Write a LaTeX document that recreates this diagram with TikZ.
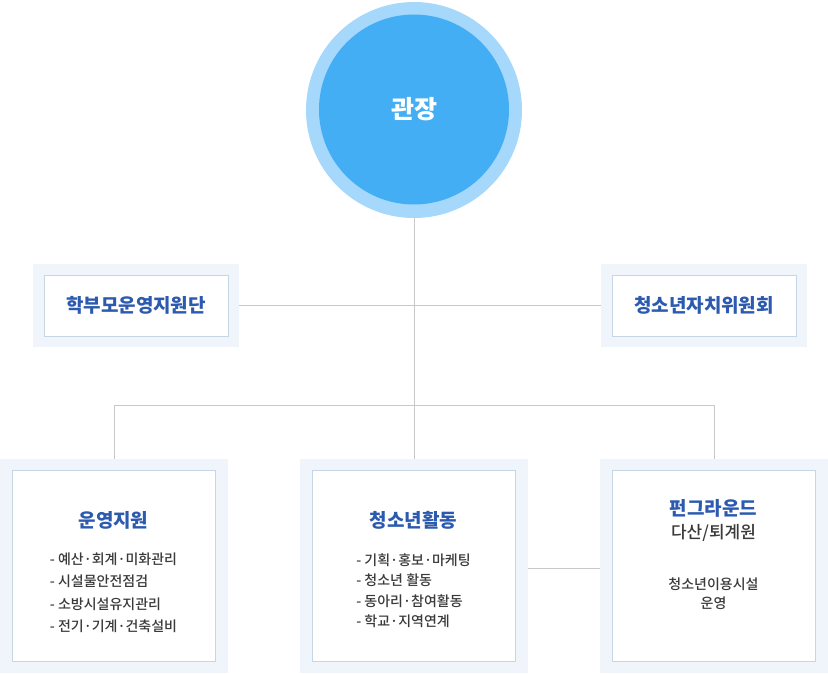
\documentclass[tikz,border=0pt]{standalone}
\usepackage{fontspec}
\setmainfont{Noto Sans CJK KR}
\newfontfamily\krmed{Noto Sans CJK KR}[UprightFont=* Medium]
\definecolor{ringblue}{HTML}{A6D8FC}
\definecolor{coreblue}{HTML}{44AEF5}
\definecolor{titleblue}{HTML}{2B5AAF}
\definecolor{txtgray}{HTML}{3A3A3A}
\definecolor{padfill}{HTML}{EFF5FB}
\definecolor{boxline}{HTML}{C6D6E6}
\definecolor{linkgray}{HTML}{C8C8C8}
\begin{document}
\begin{tikzpicture}[x=1pt,y=-1pt,
  pad/.style={rectangle, fill=padfill, inner sep=0pt},
  card/.style={rectangle, draw=boxline, line width=0.9pt, fill=white, inner sep=0pt},
  ttl/.style={font=\bfseries\fontsize{19}{22}\selectfont, text=titleblue},
  lst/.style={font=\krmed\fontsize{14}{22.5}\selectfont, text=txtgray, align=left},
  link/.style={draw=linkgray, line width=0.9pt}]
\fill[white] (0,0) rectangle (828,673);
\useasboundingbox (0,0) rectangle (828,673);
% top circle
\node[circle, fill=ringblue, minimum size=216pt, inner sep=0pt] (ring) at (414,110) {};
\node[circle, fill=coreblue, minimum size=190pt, inner sep=0pt, text=white,
  font=\bfseries\fontsize{25}{28}\selectfont] (chief) at (414,109.5) {관장};
% side boxes
\node[pad, minimum width=206pt, minimum height=83pt] (lpad) at (136,305) {};
\node[card, minimum width=184pt, minimum height=61pt, ttl] (parents) at (136,305.5) {학부모운영지원단};
\node[pad, minimum width=206pt, minimum height=83pt] (rpad) at (704,305.5) {};
\node[card, minimum width=184pt, minimum height=61pt, ttl] (council) at (704,305.5) {청소년자치위원회};
% bottom boxes
\node[pad, minimum width=228pt, minimum height=214pt] (bpad1) at (114,566) {};
\node[card, minimum width=203pt, minimum height=191pt] (ops) at (113.5,565.5) {};
\node[pad, minimum width=228pt, minimum height=214pt] (bpad2) at (414,566) {};
\node[card, minimum width=203pt, minimum height=191pt] (act) at (413.5,565.5) {};
\node[pad, minimum width=228pt, minimum height=214pt] (bpad3) at (714,566) {};
\node[card, minimum width=203pt, minimum height=191pt] (fun) at (713.5,565.5) {};
% texts in bottom boxes
\node[ttl] (opst) at (113.5,520) {운영지원};
\node[lst, anchor=north] (opsl) at (113.5,549) {- 예산·회계·미화관리\\- 시설물안전점검\\- 소방시설유지관리\\- 전기·기계·건축설비};
\node[ttl] (actt) at (413.5,520) {청소년활동};
\node[lst, anchor=north, font=\krmed\fontsize{14}{20.5}\selectfont] (actl) at (413.5,550) {- 기획·홍보·마케팅\\- 청소년 활동\\- 동아리·참여활동\\- 학교·지역연계};
\node[ttl] (funt) at (713.5,508) {펀그라운드};
\node[font=\krmed\fontsize{17}{20}\selectfont, text=txtgray] (funs) at (713.5,533) {다산/퇴계원};
\node[font=\krmed\fontsize{14}{19}\selectfont, text=txtgray, align=center] (funl) at (713.5,593.5) {청소년이용시설\\운영};
% connectors
\coordinate (hub) at (414,305);
\coordinate (fork) at (414,405);
\coordinate (forkL) at (114,405);
\coordinate (forkR) at (714,405);
\path[link] (ring.south) -- (fork);
\path[link] (lpad.east |- hub) -- (rpad.west |- hub);
\path[link] (forkL) -- (forkR);
\path[link] (forkL) -- (bpad1.north -| forkL);
\path[link] (fork) -- (bpad2.north);
\path[link] (forkR) -- (bpad3.north -| forkR);
\path[link] (bpad2.east |- 0,568) -- (bpad3.west |- 0,568);
\end{tikzpicture}
\end{document}
